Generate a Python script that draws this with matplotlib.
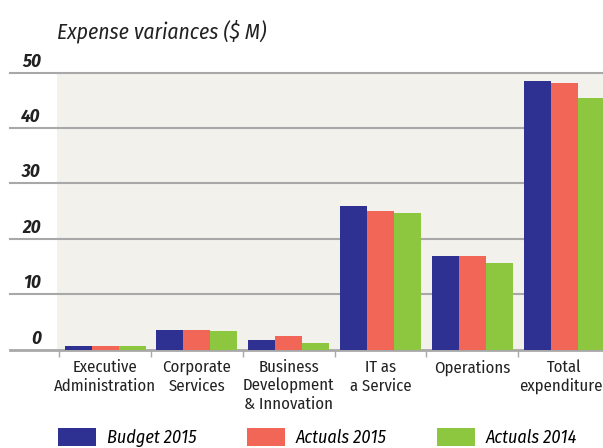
import numpy as np
import matplotlib
matplotlib.use("Agg")
import matplotlib.pyplot as plt
import matplotlib.transforms as mtransforms

categories = ["Executive\nAdministration", "Corporate\nServices",
              "Business\nDevelopment\n& Innovation", "IT as\na Service",
              "Operations", "Total\nexpenditures"]
budget_2015 = [0.6, 3.5, 1.7, 25.9, 16.9, 48.5]
actuals_2015 = [0.6, 3.5, 2.4, 25.0, 16.9, 48.1]
actuals_2014 = [0.6, 3.3, 1.1, 24.6, 15.6, 45.4]
series_names = ["Budget 2015", "Actuals 2015", "Actuals 2014"]
colors = ["#2E3192", "#F26657", "#8DC63F"]
yticks = [0, 10, 20, 30, 40, 50]

plt.rcParams['font.family'] = ['Fira Sans Condensed', 'Roboto Condensed', 'DejaVu Sans']

W, H = 603, 448
fig = plt.figure(figsize=(W / 100, H / 100), dpi=100)
ax = fig.add_axes([57 / W, (H - 349.5) / H, 553 / W, 277 / H])
ax.set_facecolor("#F2F1EC")

x = np.arange(len(categories))
bw = 0.294
bars = []
for k, (vals, c) in enumerate(zip([budget_2015, actuals_2015, actuals_2014], colors)):
    bars.append(ax.bar(x + (k - 1) * bw, vals, bw, color=c, zorder=3,
                       label=series_names[k]))

ax.set_xlim(-0.525, 5.5)
ax.set_ylim(0, 50)
for s in ax.spines.values():
    s.set_visible(False)

# gridlines extending to the left of the plot area
xmin = (10 - 57) / 553
for v in yticks:
    ax.axhline(v, xmin=xmin, xmax=1.2, color="#A8A8A8",
               lw=2.0 if v == 0 else 1.5, clip_on=False, zorder=2)

blend = mtransforms.blended_transform_factory(ax.transAxes, ax.transData)
for v in yticks:
    ax.annotate(str(v), xy=((41 - 57) / 553, v), xycoords=blend,
                xytext=(0, 6), textcoords="offset pixels",
                ha="right", va="baseline", fontsize=13.5,
                fontweight="bold", fontstyle="italic", color="#222222")

ax.set_yticks([])
ax.set_xticks(x)
ax.set_xticklabels(categories, fontsize=12, linespacing=1.22, color="#222222")
ax.tick_params(axis="x", which="major", length=0, pad=7)
ax.set_xticks(np.arange(-0.5, 6, 1), minor=True)
ax.tick_params(axis="x", which="minor", length=5, width=1, color="#A8A8A8")

fig.text(57 / W, 1 - 38 / H, "Expense variances ($ M)", fontsize=15.5,
         fontstyle="italic", color="#222222", va="baseline")

fig.legend(handles=bars, labels=series_names, loc="lower left",
           bbox_to_anchor=(58 / W, 1 / H), ncol=3, frameon=False,
           prop={"size": 13, "style": "italic"}, handlelength=2.1,
           handleheight=1.15, handletextpad=0.6, columnspacing=2.8,
           borderpad=0, borderaxespad=0)

fig.savefig("out.png", dpi=100)
